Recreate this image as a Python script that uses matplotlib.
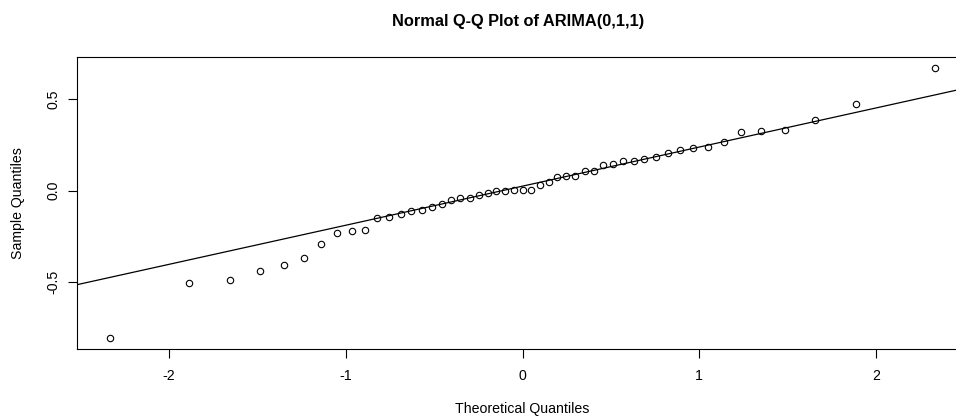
import matplotlib
matplotlib.use("Agg")
import matplotlib.pyplot as plt
import numpy as np

plt.rcParams['font.family'] = ['Liberation Sans', 'DejaVu Sans']

# Theoretical normal quantiles (n = 51)
theoretical = [-2.3337, -1.8894, -1.6544, -1.4861, -1.3516, -1.2380, -1.1384, -1.0490,
               -0.9674, -0.8916, -0.8207, -0.7537, -0.6899, -0.6288, -0.5700, -0.5131,
               -0.4578, -0.4038, -0.3511, -0.2992, -0.2482, -0.1979, -0.1480, -0.0985,
               -0.0492, 0.0000, 0.0492, 0.0985, 0.1480, 0.1979, 0.2482, 0.2992,
               0.3511, 0.4038, 0.4578, 0.5131, 0.5700, 0.6288, 0.6899, 0.7537,
               0.8207, 0.8916, 0.9674, 1.0490, 1.1384, 1.2380, 1.3516, 1.4861,
               1.6544, 1.8894, 2.3337]

# Sample quantiles (sorted residuals)
sample = [-0.808, -0.504, -0.489, -0.440, -0.405, -0.371, -0.294, -0.230, -0.220, -0.214,
          -0.150, -0.146, -0.130, -0.109, -0.105, -0.090, -0.073, -0.051, -0.042, -0.038,
          -0.026, -0.011, 0.000, 0.000, 0.004, 0.004, 0.004, 0.031, 0.049, 0.075,
          0.080, 0.080, 0.109, 0.109, 0.141, 0.149, 0.164, 0.164, 0.175, 0.186,
          0.205, 0.221, 0.235, 0.241, 0.267, 0.320, 0.325, 0.330, 0.385, 0.475,
          0.675]

x_ticks = [-2, -1, 0, 1, 2]
x_tick_labels = ['-2', '-1', '0', '1', '2']
y_ticks = [-0.5, 0.0, 0.5]
y_tick_labels = ['-0.5', '0.0', '0.5']

title = 'Normal Q-Q Plot of ARIMA(0,1,1)'
xlabel = 'Theoretical Quantiles'
ylabel = 'Sample Quantiles'

W, H = 956, 419
fig = plt.figure(figsize=(W / 100, H / 100), dpi=100)
# axes in pixel coords: left 77, right 968, top 56.7, bottom 349
L, R, T, B = 77, 968, 56.7, 349
ax = fig.add_axes([L / W, 1 - B / H, (R - L) / W, (B - T) / H])

ax.plot(theoretical, sample, linestyle='none', marker='o', markersize=4.6,
        markerfacecolor='none', markeredgecolor='black', markeredgewidth=0.8)
ax.margins(x=0.04, y=0.04)

# qqline through the quartiles
q_s = np.quantile(np.array(sample), [0.25, 0.75])
q_t = np.array([-0.6745, 0.6745])
slope = (q_s[1] - q_s[0]) / (q_t[1] - q_t[0])
icpt = q_s[0] - slope * q_t[0]
ax.axline((0, icpt), slope=slope, color='black', linewidth=0.9)

ax.set_xticks(x_ticks)
ax.set_xticklabels(x_tick_labels)
ax.set_yticks(y_ticks)
ax.set_yticklabels(y_tick_labels, rotation=90, va='center')
ax.tick_params(axis='both', direction='out', length=6.2, width=0.8,
               labelsize=10.2, color='black')
ax.tick_params(axis='x', pad=8.5)
ax.tick_params(axis='y', pad=5.5)
for s in ax.spines.values():
    s.set_linewidth(0.8)
    s.set_color('black')

fig.text(518 / W, 1 - 21.7 / H, title, ha='center', va='center',
         fontsize=11.8, fontweight='bold')
fig.text(522.5 / W, 1 - 408.5 / H, xlabel, ha='center', va='center', fontsize=10.2)
fig.text(18.3 / W, 1 - 203 / H, ylabel, ha='center', va='center', fontsize=10.2,
         rotation=90)

fig.savefig('out.png', dpi=100)
